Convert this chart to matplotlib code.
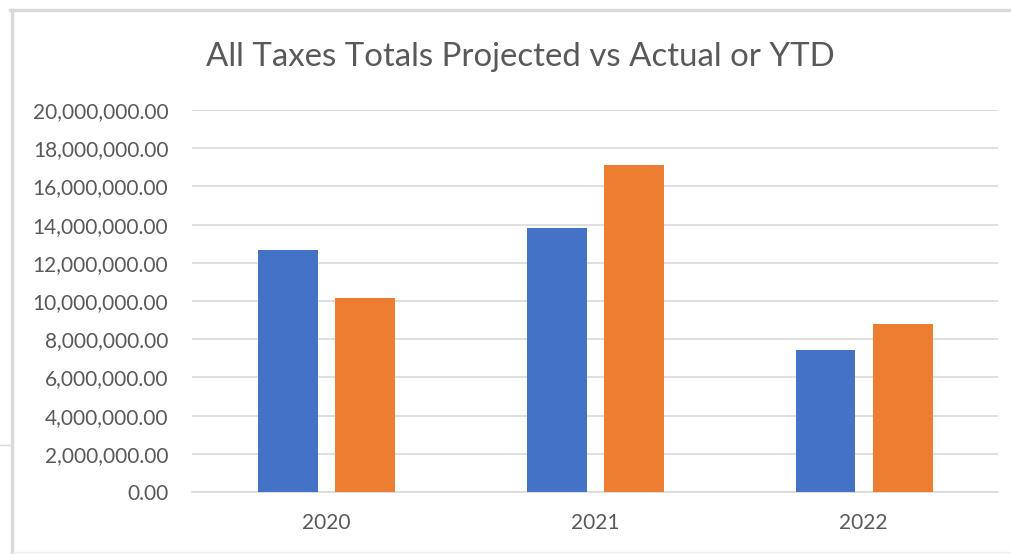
import numpy as np
import matplotlib.pyplot as plt
from matplotlib.lines import Line2D
from matplotlib.ticker import FuncFormatter

# data
years = ["2020", "2021", "2022"]
projected = [12670000, 13830000, 7430000]
actual = [10160000, 17120000, 8800000]

W, H = 1011, 554
fig = plt.figure(figsize=(W / 100, H / 100), dpi=100)
fig.patch.set_facecolor("white")

# axes placed in pixel terms
left, right, top, bottom = 192, 998, 110, 492
ax = fig.add_axes([left / W, 1 - bottom / H, (right - left) / W, (bottom - top) / H])

x = np.arange(len(years))
bw = 0.223
ax.bar(x - 0.142, projected, bw, color="#4472C4", zorder=3)
ax.bar(x + 0.145, actual, bw, color="#ED7D31", zorder=3)

ax.set_xlim(-0.5, 2.5)
ax.set_ylim(0, 20000000)
ax.set_yticks(np.arange(0, 20000001, 2000000))
ax.yaxis.set_major_formatter(FuncFormatter(lambda v, p: f"{v:,.2f}"))
ax.set_xticks(x)
ax.set_xticklabels(years)

ax.grid(axis="y", color="#d9d9d9", linewidth=1.2, zorder=0)
for s in ["top", "right", "left"]:
    ax.spines[s].set_visible(False)
ax.spines["bottom"].set_color("#d9d9d9")
ax.spines["bottom"].set_linewidth(1.2)
ax.tick_params(axis="both", length=0, colors="#595959", labelsize=15)
ax.tick_params(axis="y", pad=17)
ax.tick_params(axis="x", pad=15)
for lab in ax.get_xticklabels() + ax.get_yticklabels():
    lab.set_fontfamily("Lato")

fig.text(520 / W, 1 - 57 / H, "All Taxes Totals Projected vs Actual or YTD",
         ha="center", va="center", fontsize=23.8, color="#595959", family="Lato")

# frame lines of the spreadsheet screenshot
grey = "#d9d9d9"
fig.add_artist(Line2D([10 / W, 1], [1 - 10 / H, 1 - 10 / H], color=grey, lw=2.5))
fig.add_artist(Line2D([11.5 / W, 11.5 / W], [0, 1 - 10 / H], color=grey, lw=2.5))
fig.add_artist(Line2D([0, 10 / W], [1 - 445 / H, 1 - 445 / H], color=grey, lw=1))
fig.add_artist(Line2D([12 / W, 1], [1 - 552 / H, 1 - 552 / H], color="#eeeeee", lw=1))

fig.savefig("out.png", dpi=100)
